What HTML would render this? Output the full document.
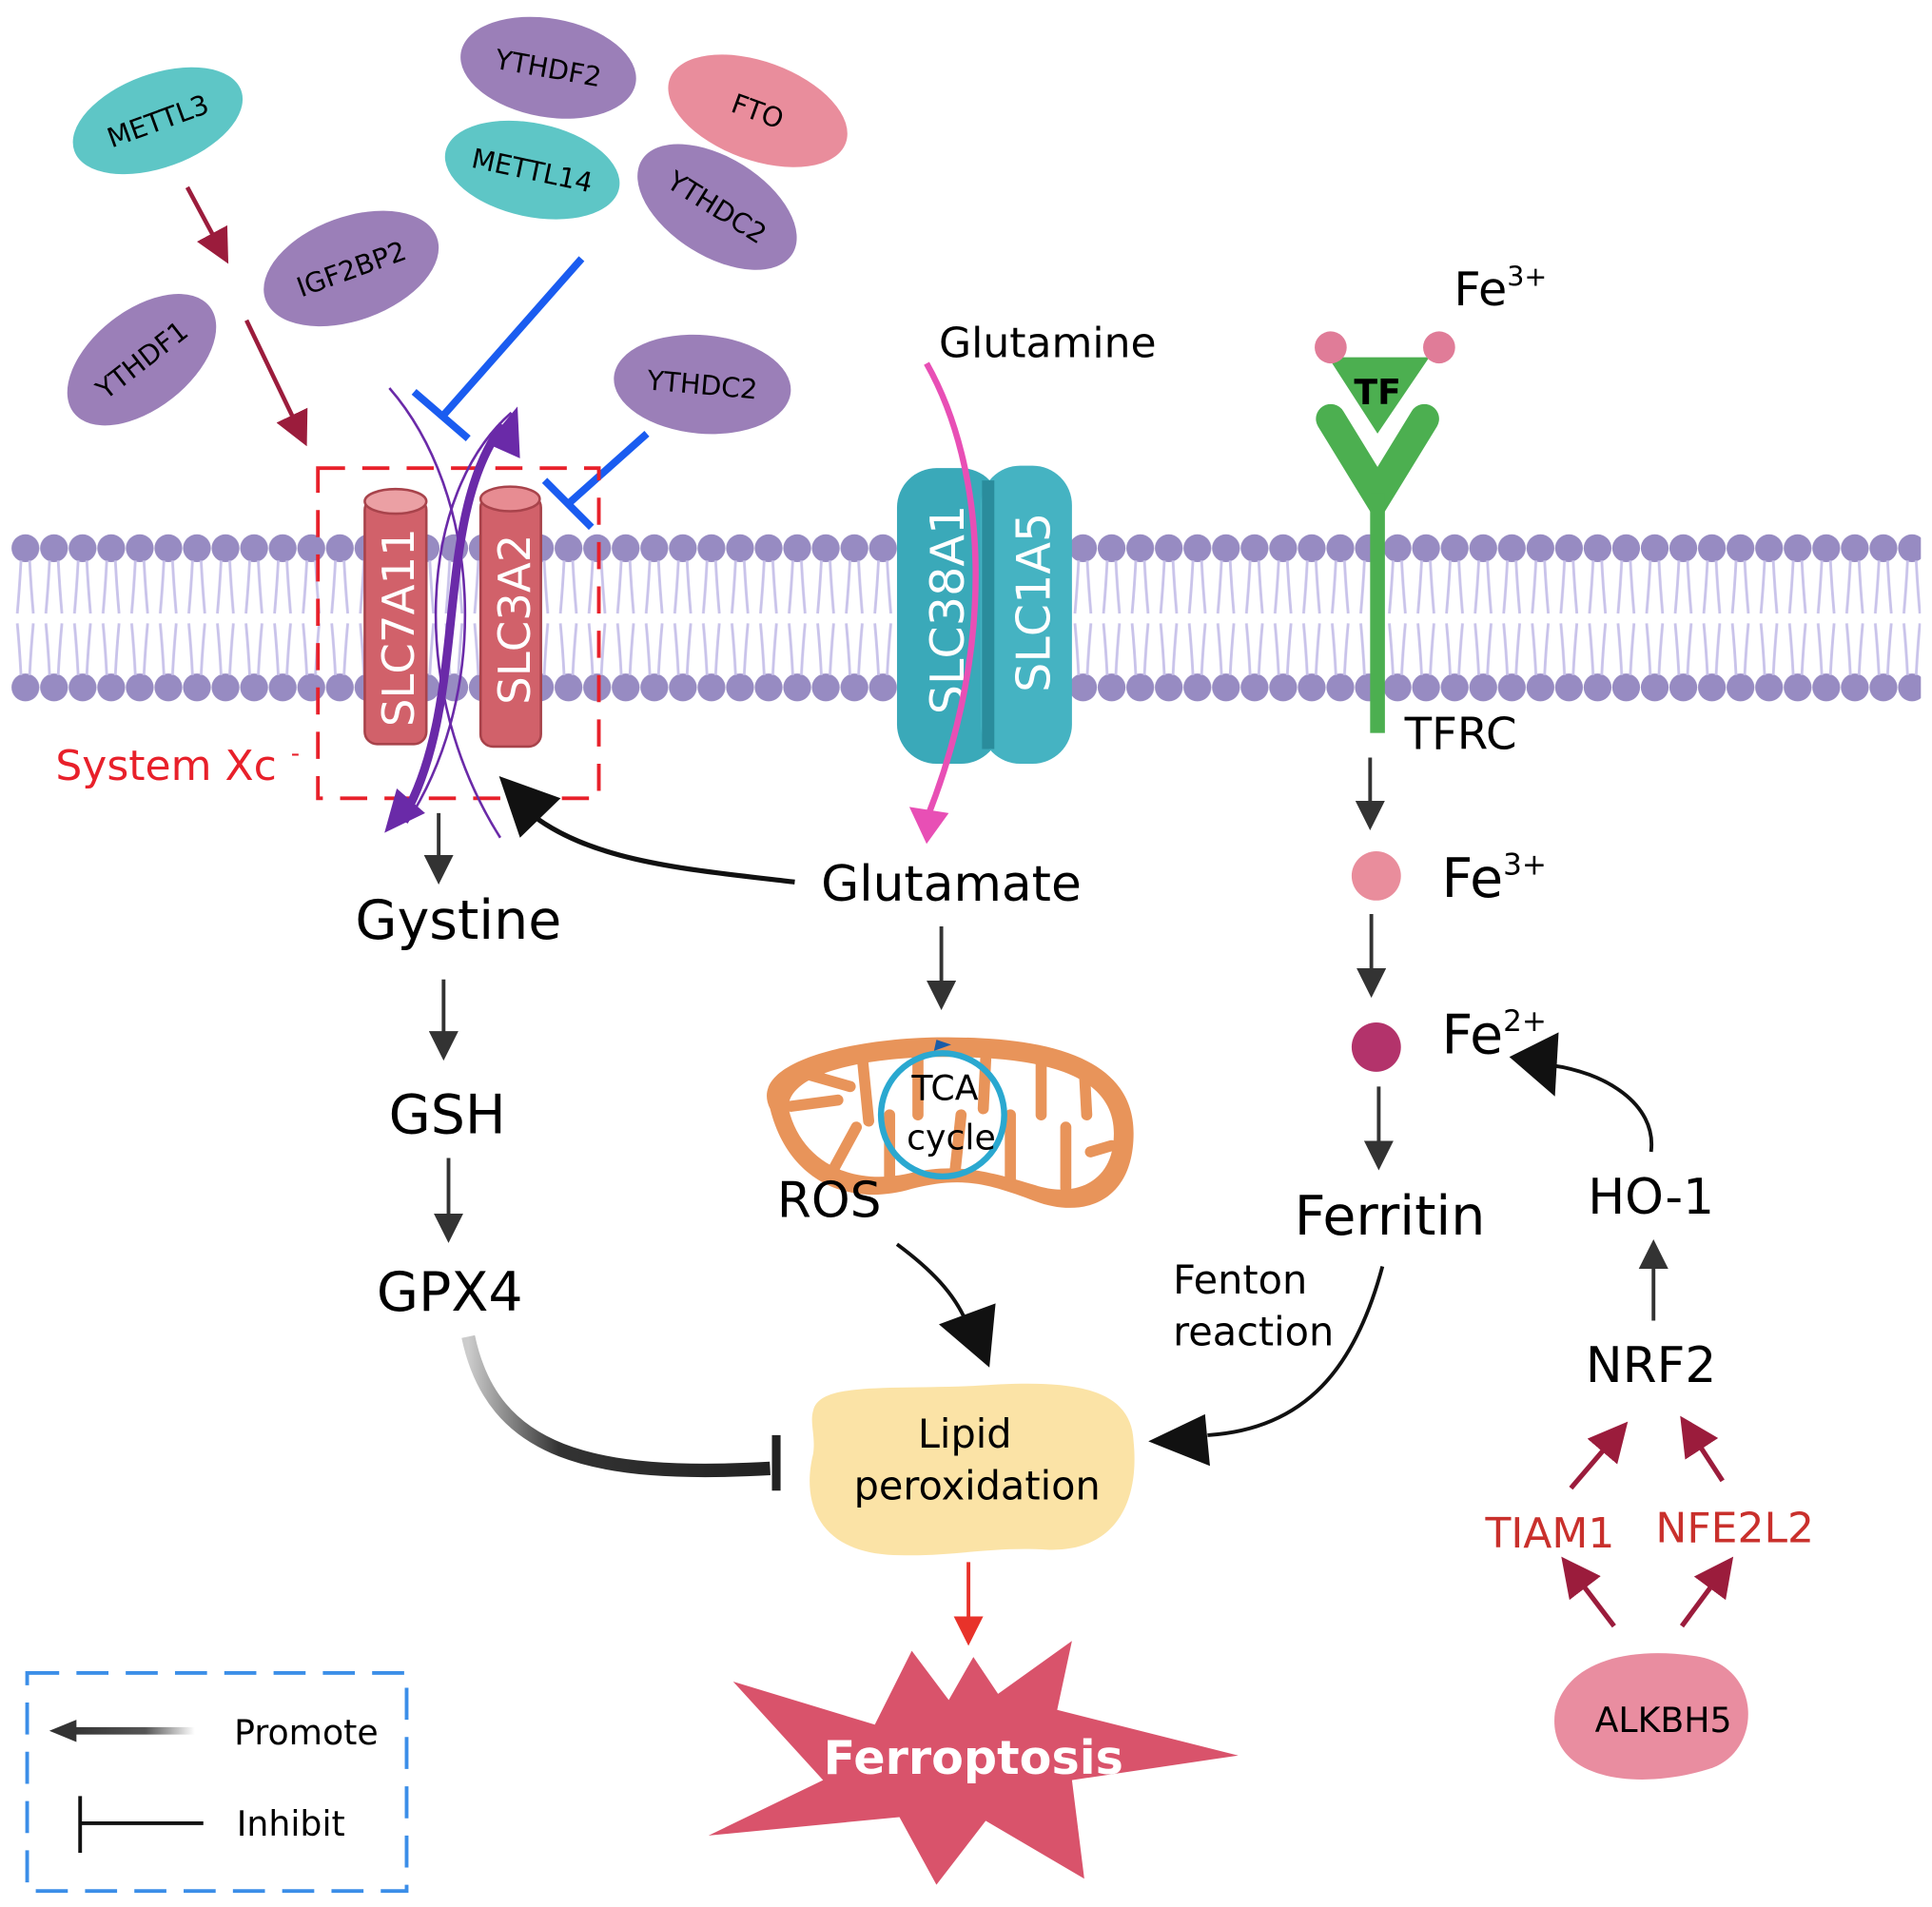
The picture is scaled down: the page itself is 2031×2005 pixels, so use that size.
<!DOCTYPE html>
<html><head><meta charset="utf-8"><style>
html,body{margin:0;padding:0;background:#fff;}
svg{display:block;}
text{font-family:"DejaVu Sans","Liberation Sans",sans-serif;}
</style></head><body>
<svg width="2031" height="2005" viewBox="0 0 1568 1548" xmlns="http://www.w3.org/2000/svg">
<defs>
<marker id="ab" markerWidth="8" markerHeight="8" refX="6" refY="4" orient="auto" markerUnits="strokeWidth"><path d="M0,0 L8,4 L0,8 z" fill="#333"/></marker>
<marker id="ar" markerWidth="8" markerHeight="8" refX="6" refY="4" orient="auto" markerUnits="strokeWidth"><path d="M0,0 L8,4 L0,8 z" fill="#9b1c3c"/></marker>
<marker id="arr" markerWidth="8" markerHeight="8" refX="6" refY="4" orient="auto" markerUnits="strokeWidth"><path d="M0,0 L8,4 L0,8 z" fill="#e8322a"/></marker>
<linearGradient id="gp" x1="0" y1="0" x2="1" y2="0"><stop offset="0" stop-color="#ccc"/><stop offset="0.3" stop-color="#333"/><stop offset="1" stop-color="#222"/></linearGradient>
<linearGradient id="lg" x1="0" y1="0" x2="1" y2="0"><stop offset="0" stop-color="#333"/><stop offset="0.6" stop-color="#555"/><stop offset="1" stop-color="#fff"/></linearGradient>
<pattern id="lip" x="9" y="0" width="23.2" height="1548" patternUnits="userSpaceOnUse">
<circle cx="11.6" cy="445" r="11.3" fill="#978bc2"/>
<circle cx="11.6" cy="558" r="11.3" fill="#978bc2"/>
<path d="M8,455 Q7,475 5,498 M15,455 Q16,475 18,498 M5,506 Q7,528 8,548 M18,506 Q16,528 15,548" stroke="#c9c3ea" stroke-width="2.2" fill="none"/>
</pattern>
</defs>
<rect x="9" y="430" width="1550" height="142" fill="url(#lip)"/>

<!-- blobs -->
<g font-size="22" text-anchor="middle">
<g transform="translate(128,98) rotate(-20)"><ellipse rx="72" ry="38" fill="#5ec6c6"/><text y="8">METTL3</text></g>
<g transform="translate(445,55) rotate(10)"><ellipse rx="72" ry="40" fill="#9b7fb8"/><text y="8">YTHDF2</text></g>
<g transform="translate(615,90) rotate(20)"><ellipse rx="76" ry="40" fill="#e98d9c"/><text y="8">FTO</text></g>
<g transform="translate(432,138) rotate(12)"><ellipse rx="72" ry="38" fill="#5ec6c6"/><text y="8">METTL14</text></g>
<g transform="translate(582,168) rotate(32)"><ellipse rx="72" ry="40" fill="#9b7fb8"/><text y="8">YTHDC2</text></g>
<g transform="translate(285,218) rotate(-20)"><ellipse rx="74" ry="42" fill="#9b7fb8"/><text y="8">IGF2BP2</text></g>
<g transform="translate(115,292) rotate(-38)"><ellipse rx="70" ry="40" fill="#9b7fb8"/><text y="8">YTHDF1</text></g>
<g transform="translate(570,312) rotate(5)"><ellipse rx="72" ry="40" fill="#9b7fb8"/><text y="8">YTHDC2</text></g>
</g>

<g stroke="#9b1c3c" stroke-width="3.5" fill="none">
<line x1="152" y1="152" x2="182" y2="208" marker-end="url(#ar)"/>
<line x1="200" y1="260" x2="246" y2="356" marker-end="url(#ar)"/>
</g>

<g stroke="#1a5cf0" stroke-width="6" fill="none">
<line x1="472" y1="210" x2="360" y2="337"/>
<line x1="336" y1="318" x2="380" y2="356"/>
<line x1="525" y1="352" x2="460" y2="410"/>
<line x1="442" y1="390" x2="480" y2="428"/>
</g>

<rect x="258" y="380" width="228" height="268" fill="none" stroke="#e8202a" stroke-width="3" stroke-dasharray="22,14"/>
<text x="45" y="633" font-size="34" fill="#e8202a">System Xc</text>
<text x="236" y="618" font-size="20" fill="#e8202a">-</text>

<rect x="296" y="404" width="50" height="200" rx="10" fill="#d1616a" stroke="#a8434b" stroke-width="2"/>
<ellipse cx="321" cy="407" rx="25" ry="10" fill="#eba0a4" stroke="#a8434b" stroke-width="2"/>
<text transform="translate(336,590) rotate(-90)" font-size="36" fill="#fff">SLC7A11</text>
<rect x="390" y="402" width="49" height="204" rx="10" fill="#d1616a" stroke="#a8434b" stroke-width="2"/>
<ellipse cx="414" cy="405" rx="24" ry="10" fill="#e78c92" stroke="#a8434b" stroke-width="2"/>
<text transform="translate(430,572) rotate(-90)" font-size="36" fill="#fff">SLC3A2</text>

<path d="M406,680 C330,560 340,400 415,335" stroke="#6a2aa8" stroke-width="2" fill="none"/>
<path d="M316,315 C390,400 400,560 330,668" stroke="#6a2aa8" stroke-width="2" fill="none"/>
<path d="M332,655 C380,560 352,420 408,345" stroke="#6a2aa8" stroke-width="7" fill="none"/>
<path d="M395,360 L420,330 L422,372 z" fill="#6a2aa8"/>
<path d="M312,676 L322,640 L345,660 z" fill="#6a2aa8"/>

<rect x="728" y="380" width="84" height="240" rx="32" fill="#3aa9b9"/>
<rect x="796" y="378" width="74" height="242" rx="32" fill="#45b3c2"/>
<rect x="797" y="390" width="10" height="218" fill="#2a8c9c"/>
<text transform="translate(782,580) rotate(-90)" font-size="38" fill="#fff">SLC38A1</text>
<text transform="translate(852,562) rotate(-90)" font-size="38" fill="#fff">SLC1A5</text>
<path d="M752,295 C800,380 810,520 752,665" stroke="#e84fb5" stroke-width="5" fill="none"/>
<path d="M738,655 L752,685 L770,660 z" fill="#e84fb5"/>
<text x="762" y="290" font-size="34">Glutamine</text>

<path d="M1078,290 L1160,290 L1118,352 z" fill="#4caf50"/>
<circle cx="1080" cy="282" r="13" fill="#e07c98"/>
<circle cx="1168" cy="282" r="13" fill="#e07c98"/>
<text x="1118" y="328" font-size="28" text-anchor="middle" font-weight="bold">TF</text>
<path d="M1080,340 L1118,402 L1156,340" stroke="#4caf50" stroke-width="24" fill="none" stroke-linecap="round"/>
<rect x="1112" y="400" width="12" height="195" fill="#4caf50"/>
<text x="1180" y="248" font-size="38">Fe<tspan font-size="22" dy="-16">3+</tspan></text>
<text x="1140" y="608" font-size="36">TFRC</text>

<g stroke="#333" stroke-width="3" fill="none">
<line x1="1112" y1="615" x2="1112" y2="668" marker-end="url(#ab)"/>
<line x1="1113" y1="742" x2="1113" y2="804" marker-end="url(#ab)"/>
<line x1="1119" y1="882" x2="1119" y2="944" marker-end="url(#ab)"/>
<line x1="356" y1="660" x2="356" y2="712" marker-end="url(#ab)"/>
<line x1="360" y1="795" x2="360" y2="855" marker-end="url(#ab)"/>
<line x1="364" y1="940" x2="364" y2="1003" marker-end="url(#ab)"/>
<line x1="764" y1="752" x2="764" y2="814" marker-end="url(#ab)"/>
<line x1="1342" y1="1072" x2="1342" y2="1012" marker-end="url(#ab)"/>
</g>
<circle cx="1117" cy="711" r="20" fill="#e98d9c"/>
<text x="1170" y="728" font-size="44">Fe<tspan font-size="24" dy="-18">3+</tspan></text>
<circle cx="1117" cy="850" r="20" fill="#b3336b"/>
<text x="1170" y="855" font-size="44">Fe<tspan font-size="24" dy="-18">2+</tspan></text>
<text x="1128" y="1002" font-size="44" text-anchor="middle">Ferritin</text>
<text x="1340" y="985" font-size="40" text-anchor="middle">HO-1</text>
<text x="1340" y="1122" font-size="40" text-anchor="middle">NRF2</text>
<path d="M1340,935 C1345,895 1300,870 1260,865" stroke="#111" stroke-width="3" fill="none"/>
<path d="M1225,858 L1265,838 L1262,890 z" fill="#111"/>
<text x="1258" y="1256" font-size="34" fill="#c9302c" text-anchor="middle">TIAM1</text>
<text x="1408" y="1252" font-size="34" fill="#c9302c" text-anchor="middle">NFE2L2</text>
<g stroke="#9b1c3c" stroke-width="4" fill="none">
<line x1="1275" y1="1208" x2="1316" y2="1160" marker-end="url(#ar)"/>
<line x1="1398" y1="1202" x2="1368" y2="1156" marker-end="url(#ar)"/>
<line x1="1310" y1="1320" x2="1272" y2="1270" marker-end="url(#ar)"/>
<line x1="1365" y1="1320" x2="1402" y2="1270" marker-end="url(#ar)"/>
</g>
<path d="M1262,1390 C1270,1350 1320,1335 1380,1345 C1430,1355 1430,1420 1390,1435 C1330,1455 1255,1445 1262,1390 z" fill="#e98da0"/>
<text x="1350" y="1406" font-size="28" text-anchor="middle">ALKBH5</text>

<text x="372" y="762" font-size="44" text-anchor="middle">Gystine</text>
<text x="363" y="920" font-size="44" text-anchor="middle">GSH</text>
<text x="365" y="1064" font-size="44" text-anchor="middle">GPX4</text>
<text x="772" y="731" font-size="40" text-anchor="middle">Glutamate</text>
<path d="M645,716 C560,706 480,700 430,660" stroke="#111" stroke-width="4" fill="none"/>
<path d="M405,630 L455,648 L422,680 z" fill="#111"/>

<path d="M380,1085 C400,1180 480,1200 625,1192" stroke="url(#gp)" stroke-width="11" fill="none"/>
<line x1="630" y1="1165" x2="630" y2="1210" stroke="#222" stroke-width="7"/>

<!-- mitochondrion -->
<path d="M625,900 C605,860 700,842 765,842 C830,842 920,850 920,920 C920,975 880,990 840,975 C800,960 780,955 740,965 C690,980 640,960 625,900 z" fill="#e8945a"/>
<path d="M640,900 C638,872 700,858 765,858 C825,858 904,864 904,920 C904,962 870,972 840,962 C800,950 775,944 740,952 C690,964 650,942 640,900 z" fill="#fff"/>
<g stroke="#e8945a" stroke-width="9" stroke-linecap="round">
<line x1="642" y1="898" x2="680" y2="893"/><line x1="655" y1="872" x2="690" y2="882"/>
<line x1="700" y1="860" x2="705" y2="910"/><line x1="676" y1="950" x2="695" y2="915"/>
<line x1="722" y1="958" x2="722" y2="905"/><line x1="745" y1="860" x2="745" y2="905"/>
<line x1="775" y1="952" x2="780" y2="905"/><line x1="800" y1="860" x2="798" y2="900"/>
<line x1="820" y1="958" x2="820" y2="905"/><line x1="845" y1="862" x2="845" y2="905"/>
<line x1="865" y1="964" x2="865" y2="915"/><line x1="880" y1="868" x2="882" y2="905"/>
<line x1="902" y1="930" x2="885" y2="935"/>
</g>
<circle cx="765" cy="905" r="50" fill="none" stroke="#2aa8d0" stroke-width="5"/>
<path d="M758,853 L772,848 L760,844" fill="#1a5ca8"/>
<text x="767" y="893" font-size="28" text-anchor="middle">TCA</text>
<text x="772" y="933" font-size="28" text-anchor="middle">cycle</text>
<text x="673" y="988" font-size="40" text-anchor="middle">ROS</text>
<path d="M728,1010 C755,1030 775,1050 785,1075" stroke="#111" stroke-width="3" fill="none"/>
<path d="M762,1075 L803,1110 L808,1058 z" fill="#111"/>

<text x="952" y="1050" font-size="32">Fenton</text>
<text x="952" y="1092" font-size="32">reaction</text>
<path d="M1122,1028 C1100,1110 1060,1160 980,1165" stroke="#111" stroke-width="3" fill="none"/>
<path d="M932,1170 L978,1148 L982,1190 z" fill="#111"/>

<path d="M660,1145 C665,1122 720,1128 790,1125 C860,1120 918,1122 920,1170 C925,1220 905,1260 850,1258 C800,1255 770,1265 720,1262 C665,1258 650,1220 660,1180 C662,1165 657,1155 660,1145 z" fill="#fbe3a6"/>
<text x="783" y="1175" font-size="32" text-anchor="middle">Lipid</text>
<text x="793" y="1217" font-size="32" text-anchor="middle">peroxidation</text>
<line x1="786" y1="1268" x2="786" y2="1330" stroke="#e8322a" stroke-width="3" marker-end="url(#arr)"/>

<path d="M790,1345 L810,1375 L870,1332 L858,1388 L1005,1425 L870,1445 L880,1525 L800,1478 L760,1530 L730,1475 L575,1490 L668,1445 L595,1365 L710,1400 L740,1340 L770,1380 z" fill="#d9536b"/>
<text x="790" y="1440" font-size="38" fill="#fff" text-anchor="middle" font-weight="bold">Ferroptosis</text>

<rect x="22" y="1358" width="308" height="177" fill="none" stroke="#3b8ee8" stroke-width="3" stroke-dasharray="26,14"/>
<rect x="58" y="1402" width="100" height="6" fill="url(#lg)"/>
<path d="M40,1405 L62,1396 L62,1414 z" fill="#333"/>
<text x="190" y="1416" font-size="28">Promote</text>
<line x1="65" y1="1480" x2="165" y2="1480" stroke="#111" stroke-width="3"/>
<line x1="65" y1="1458" x2="65" y2="1504" stroke="#111" stroke-width="3"/>
<text x="192" y="1490" font-size="28">Inhibit</text>
</svg>
</body></html>
